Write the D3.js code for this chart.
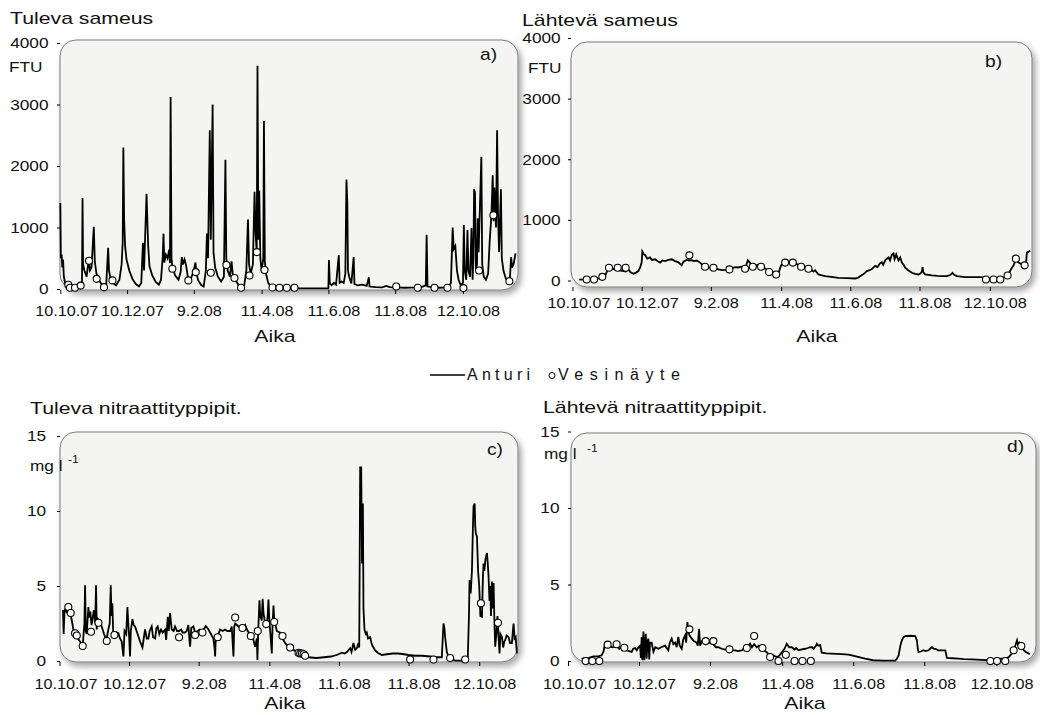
<!DOCTYPE html>
<html lang="fi">
<head>
<meta charset="UTF-8">
<title>Sameus ja nitraattityppi</title>
<script src="https://d3js.org/d3.v7.min.js"></script>
<style>
    body { margin: 0; background: #fff; }
    svg { display: block; }
    text { font-family: "Liberation Sans", Arial, sans-serif; fill: #111; }
</style>
</head>
<body>
<svg width="1040" height="715"></svg>
<script>
    // days counted from 10.10.2007
    const startDate = new Date(2007, 9, 10);

    const tickLabels = ['10.10.07', '10.12.07', '9.2.08', '11.4.08', '11.6.08', '11.8.08', '12.10.08'];
    const ftuTicks = [0, 1000, 2000, 3000, 4000];
    const mgTicks = [0, 5, 10, 15];

    // a) Tuleva sameus, FTU
    const sameusTulevaAnturi = [
        [0, 1400], [0.5, 500], [1.2, 560], [1.8, 350], [2.5, 480], [3.2, 200], [4.5, 90], [6, 50], [9, 30], [13, 20],
        [17, 40], [19.8, 120], [20.3, 1480], [20.8, 400], [22, 300], [24, 200], [26, 480], [27, 300], [28.5, 350],
        [30.6, 1010], [31.5, 450], [33, 250], [35, 150], [38, 70], [40, 50], [42, 80], [43.7, 670], [44.5, 300],
        [46, 160], [48, 100], [51, 60], [54, 150], [56, 400], [57, 750], [57.6, 2300], [58.3, 1140], [59.2, 700],
        [60.5, 480], [63, 300], [66, 160], [69, 80], [72, 40], [74, 100], [75.5, 750], [76.5, 300], [78.8, 1550],
        [79.6, 1080], [80.3, 700], [81.5, 370], [84, 220], [87, 120], [90, 70], [92, 150], [93.6, 530], [94.3, 900],
        [95, 430], [96.5, 560], [98, 500], [99.5, 640], [100.2, 420], [100.8, 3120], [101.6, 500], [102.5, 350],
        [105, 220], [108, 150], [110, 280], [111, 520], [112, 400], [113.5, 480], [115, 380], [116.5, 200], [118, 130],
        [120, 200], [122, 300], [123.5, 430], [124.5, 250], [126, 140], [129, 60], [131, 40], [133, 300], [134, 900],
        [135, 500], [136.6, 2580], [137.5, 800], [139.2, 3000], [140, 600], [141.5, 350], [144, 200], [147, 120],
        [149.5, 200], [150.9, 2100], [151.7, 500], [153, 300], [155, 200], [156.5, 450], [157.5, 250], [160, 150],
        [163, 60], [166, 20], [168, 50], [170, 300], [171.5, 1130], [172.5, 400], [174, 250], [176, 400],
        [177.5, 1580], [178.5, 900], [179.5, 600], [180.2, 3630], [181, 800], [181.8, 1600], [182.8, 500], [184, 300],
        [185.5, 500], [186.1, 2730], [186.9, 450], [188, 250], [190, 100], [192, 50], [195, 20], [200, 10], [245, 10],
        [245.5, 470], [246.3, 90], [248, 60], [250, 100], [252, 70], [254.5, 550], [255.3, 100], [257, 120],
        [259, 100], [260.5, 250], [261.5, 1780], [262.3, 1400], [262.9, 300], [264, 200], [266, 90], [268.1, 520],
        [268.8, 80], [272, 60], [276, 70], [280, 50], [282, 190], [282.6, 40], [288, 30], [294, 25], [298, 50],
        [301, 30], [305, 25], [315, 20], [325, 25], [330, 30], [334, 60], [334.8, 880], [335.6, 40], [345, 20],
        [355, 25], [357, 100], [358.6, 1000], [359.5, 650], [361, 700], [362.5, 300], [364, 150], [366, 60], [368, 100],
        [368.8, 1040], [369.6, 300], [371, 150], [372.1, 960], [373, 300], [374.5, 200], [375.8, 990], [376.8, 150],
        [377.5, 500], [378.2, 1620], [379, 1560], [379.8, 300], [380.8, 400], [381.5, 1150], [382.3, 600],
        [384.8, 2150], [385.6, 400], [387, 200], [389, 150], [391, 250], [392.5, 800], [394, 1200], [395.2, 1850],
        [396, 1100], [396.7, 1650], [398.2, 1000], [399.2, 2580], [400, 1250], [401, 600], [402.7, 1620], [403.5, 500],
        [405, 300], [407, 180], [409, 120], [411, 200], [412, 520], [413, 350], [414.5, 420], [416, 580]
    ];
    const sameusTulevaNayte = [
        [7.3, 70], [8.8, 20], [13.4, 20], [18.6, 55], [26.2, 460], [33.2, 165], [39.9, 30], [47.6, 140], [102.4, 330],
        [117, 140], [123.8, 275], [137.5, 265], [151.8, 390], [159.1, 180], [165.2, 20], [172.9, 220], [179.6, 600],
        [186.6, 310], [193.9, 25], [200.3, 20], [207, 20], [214, 20], [307, 40], [326.7, 20], [342, 20], [353.8, 20],
        [368.4, 15], [382.7, 300], [395.8, 1200], [410.4, 125]
    ];

    // b) Lähtevä sameus, FTU
    const sameusLahtevaAnturi = [
        [6, 15], [12, 20], [19, 25], [24, 40], [26, 60], [29, 90], [30.5, 150], [32, 200], [36, 190], [40, 170],
        [44, 160], [47, 150], [49, 190], [51, 140], [53.7, 110], [56, 130], [58.1, 155], [59.6, 210], [61, 300],
        [61.6, 480], [63, 430], [64, 420], [66, 360], [68.4, 380], [70, 340], [72.8, 350], [75, 320], [77.2, 295],
        [79.3, 330], [81.6, 320], [84.6, 340], [87.5, 350], [90.4, 320], [93.4, 300], [96.3, 250], [97.8, 310],
        [100.7, 340], [103, 330], [105.1, 335], [107, 320], [109.6, 330], [112.5, 295], [115, 250], [118, 220],
        [122, 210], [126, 200], [128.7, 183], [132, 170], [136, 175], [138.4, 190], [141, 205], [143.4, 220],
        [146, 215], [149.3, 228], [151, 210], [153, 240], [154.6, 333], [156.6, 290], [158, 250], [161, 240],
        [164, 260], [166.3, 240], [169, 210], [172, 170], [175, 160], [178, 120], [179.6, 110], [181.6, 110],
        [183, 200], [184, 250], [186, 290], [188, 310], [191, 300], [194.3, 290], [197.8, 270], [200, 250], [203, 230],
        [206, 210], [208, 190], [210, 180], [212.5, 150], [214, 170], [216.9, 100], [219, 90], [222.8, 72], [228, 60],
        [234.6, 44], [242, 38], [249.3, 33], [252, 45], [253.7, 72], [257, 110], [259.6, 155], [262, 170], [264, 190],
        [267, 240], [269, 220], [271, 280], [272.8, 300], [274, 260], [276, 340], [278.7, 380], [280, 330],
        [281.5, 420], [283.1, 445], [284, 350], [285.5, 430], [287.5, 330], [289, 380], [290.4, 295], [292, 260],
        [293.4, 210], [296, 170], [299.3, 128], [302, 110], [305.1, 100], [307, 120], [308.2, 150], [308.7, 222],
        [309.3, 140], [311, 100], [316.9, 83], [322, 75], [325.7, 72], [330, 72], [333, 90], [335.1, 128],
        [336.5, 95], [339, 72], [346.3, 55], [355, 55], [361, 55], [364, 30], [375, 25], [380, 45], [383.7, 83],
        [386, 160], [387.5, 210], [389, 250], [391, 350], [393, 300], [394.9, 280], [397, 250], [399, 240],
        [400, 300], [400.7, 460], [403.7, 490]
    ];
    const sameusLahtevaNayte = [
        [12.5, 17], [19, 17], [26.3, 60], [32.2, 210], [39.9, 210], [46.9, 210], [103.1, 415], [116.9, 228],
        [124.3, 210], [138.4, 183], [152.2, 195], [159, 228], [166.3, 228], [173.4, 140], [179.6, 100], [187.5, 295],
        [194.3, 295], [201.6, 228], [208.1, 195], [364.6, 17], [371.3, 17], [377.2, 17], [383.7, 83], [391, 360],
        [398.7, 250]
    ];

    // c) Tuleva nitraattityppi, mg l-1
    const nitraattiTulevaAnturi = [
        [3, 3.4], [3.6, 1.8], [4.4, 3.4], [5.5, 3.5], [6.3, 3.2], [7.5, 3.5], [9.5, 3.2], [11, 2.6], [12.1, 2.1],
        [14, 1.8], [16, 1.5], [18, 1.3], [19.5, 1.1], [20.5, 1.2], [21.8, 2.5], [22.4, 5.05], [23, 2.0], [23.8, 1.8],
        [25.3, 3.6], [26, 2.9], [27, 3.3], [28, 2.4], [28.8, 2.7], [30, 3.4], [31.3, 2.5], [32, 5.05], [32.6, 2.1],
        [33.5, 2.8], [35, 2.6], [37, 2.3], [39, 1.8], [41, 1.4], [42.8, 2.1], [44, 2.5], [44.9, 5.05], [45.5, 3.0],
        [46.3, 3.85], [47, 2.0], [48.1, 1.6], [50, 1.9], [51.6, 1.85], [53, 1.5], [54.5, 1.3], [56, 0.3], [57, 2.0],
        [58.5, 1.8], [59.5, 3.6], [60.2, 2.6], [61, 1.7], [61.8, 0.3], [62.5, 2.0], [63.9, 2.8], [65, 2.4],
        [66.2, 2.3], [68, 1.9], [70.6, 1.3], [72.7, 0.9], [74, 1.6], [75, 2.1], [76.5, 1.5], [77.9, 1.5], [79, 2.0],
        [80.8, 2.3], [82, 1.6], [83.8, 1.5], [85, 2.2], [86.1, 2.3], [87.5, 1.8], [89, 2.1], [90.5, 1.9], [92.5, 2.1],
        [93.5, 1.4], [94.9, 2.95], [95.8, 2.0], [96.9, 3.2], [98.4, 2.1], [100, 2.0], [101.3, 2.3], [103, 2.0],
        [104.8, 2.0], [106.6, 2.1], [108, 1.9], [110, 1.9], [111.5, 2.0], [113, 2.4], [114, 1.3], [114.5, 0.95],
        [115.5, 2.2], [117.4, 2.3], [118.9, 1.9], [121, 2.0], [123, 2.1], [125.3, 2.0], [128.2, 2.33], [130.6, 2.1],
        [132, 1.9], [134.9, 1.5], [136, 0.8], [136.4, 0.3], [137, 1.5], [138.7, 1.7], [140.8, 2.1], [143, 2.0],
        [145.2, 2.1], [147, 2.0], [149.6, 2.0], [151, 2.3], [151.8, 1.2], [152.5, 0.3], [153.2, 2.3], [154, 2.5],
        [155.5, 2.4], [156.9, 2.3], [159, 2.2], [160.4, 2.2], [162.7, 2.4], [165, 2.0], [167.7, 1.7], [170, 1.4],
        [171.5, 0.95], [173, 1.5], [173.5, 0.07], [174.2, 2.0], [175.3, 4.05], [176, 3.0], [177.3, 2.7], [178.1, 4.15],
        [178.8, 3.2], [180.3, 2.5], [181.2, 2.2], [182.5, 3.0], [183.2, 4.1], [184, 2.6], [184.7, 2.0], [186.1, 0.5],
        [186.8, 2.4], [187.6, 3.7], [188.2, 2.8], [190.5, 2.0], [193, 1.9], [195.5, 1.5], [197.8, 1.2], [200, 1.0],
        [202.2, 0.9], [205, 0.75], [208, 0.6], [211, 0.5], [215.3, 0.35], [218.2, 0.25], [225, 0.2], [232, 0.25],
        [238, 0.3], [243, 0.4], [247.5, 0.55], [250, 0.5], [252, 0.6], [254.8, 0.85], [256, 0.6], [257.7, 1.2],
        [259.2, 0.75], [261, 0.9], [262.1, 1.2], [262.8, 0.9], [263.6, 12.9], [264.5, 12.9], [265.2, 6.5],
        [266, 10.5], [266.5, 3.5], [267.4, 2.1], [268.5, 1.8], [269.4, 1.9], [270.5, 1.5], [272.4, 1.6], [273.5, 1.2],
        [274.4, 1.0], [276.8, 0.7], [279, 0.55], [282.6, 0.4], [287, 0.45], [292, 0.5], [297.2, 0.5], [302, 0.45],
        [306, 0.4], [312, 0.35], [318, 0.35], [325, 0.3], [330, 0.25], [335.2, 0.25], [336, 1.5], [336.7, 2.5],
        [337.5, 2.2], [338.1, 1.6], [339.6, 0.6], [341, 0.3], [344, 0.1], [347, 0.02], [352, 0.02], [356, 0.05],
        [358, 0.3], [359, 3.0], [359.5, 5.4], [360.5, 4.5], [361.6, 6.0], [362.5, 9.0], [363, 10.3], [364, 10.5],
        [364.5, 9.0], [365, 8.5], [366, 8.3], [367, 6.0], [368, 5.0], [369, 3.0], [370.4, 2.95], [371.2, 5.5],
        [371.8, 6.5], [372.5, 6.0], [373.5, 6.8], [374.8, 7.2], [375.5, 6.5], [376.2, 5.6], [377, 4.0], [377.7, 5.0],
        [378.3, 3.0], [379.1, 5.3], [380, 3.5], [380.6, 5.2], [381.2, 3.0], [382, 0.96], [383, 1.8], [384, 3.0],
        [385, 1.5], [385.8, 0.5], [386.6, 1.8], [387.9, 1.6], [389, 0.9], [390, 1.3], [390.8, 1.4], [392, 1.7],
        [393.7, 1.6], [395, 1.2], [396.6, 1.2], [398.1, 2.5], [399, 1.5], [400, 1.6], [401, 0.5]
    ];
    const nitraattiTulevaNayte = [
        [7.7, 3.6], [9.8, 3.2], [13.6, 1.85], [15.1, 1.7], [20.3, 1.0], [27.6, 1.95], [34.1, 2.55], [41.4, 1.33],
        [48.1, 1.73], [104.8, 1.58], [118.9, 1.73], [125.3, 1.9], [138.7, 1.58], [154, 2.9], [160.4, 2.2],
        [167.7, 1.67], [173.8, 2.0], [181.2, 2.47], [188.2, 2.6], [195.5, 1.67], [202.2, 0.9], [209.5, 0.55],
        [211, 0.5], [212.5, 0.5], [214, 0.45], [215.3, 0.35], [307.4, 0.1], [327.9, 0.1], [342.5, 0.2], [355.7, 0.1],
        [369.5, 3.85], [384.4, 2.55]
    ];

    // d) Lähtevä nitraattityppi, mg l-1
    const nitraattiLahtevaAnturi = [
        [11.7, 0.15], [18, 0.2], [21.8, 0.3], [26, 0.3], [28.9, 0.37], [30.5, 0.6], [31.2, 0.9], [32, 1.2],
        [33.2, 1.2], [35, 1.0], [38, 0.9], [41.8, 1.0], [44, 0.8], [46, 0.9], [48.4, 0.85], [50.4, 0.7], [52.5, 0.65],
        [54.7, 0.6], [56, 0.8], [57.6, 0.85], [59, 0.7], [60.5, 0.9], [61.9, 1.0], [62.6, 0.2], [63.3, 1.57],
        [63.9, 0.05], [64.8, 1.93], [65.6, 0.05], [66.8, 1.78], [67.6, 0.15], [68.3, 1.3], [69.1, 1.46], [69.8, 0.1],
        [70.5, 1.2], [71.9, 1.2], [73.4, 0.6], [75, 0.9], [77.7, 0.8], [80, 0.9], [83.4, 1.0], [86.2, 0.7],
        [87.5, 1.2], [89.1, 1.46], [90.5, 1.1], [92, 1.2], [93.4, 0.9], [94.8, 1.57], [96, 1.0], [97.7, 0.8],
        [99, 1.4], [100.6, 1.67], [101.5, 1.2], [102.6, 2.54], [103.4, 1.9], [104.3, 1.7], [106.3, 1.46], [108, 1.3],
        [110.6, 1.2], [111.5, 1.0], [112.6, 2.1], [113.5, 1.0], [115, 1.3], [118.3, 1.1], [121, 1.2], [124.9, 1.1],
        [127, 0.9], [129.2, 0.9], [132, 0.8], [135, 0.75], [138.7, 0.8], [141, 0.7], [143.6, 0.7], [146, 0.65],
        [149.3, 0.7], [151, 0.8], [153.6, 0.9], [155, 1.0], [156.4, 1.13], [158, 0.9], [159.9, 1.1], [162.2, 0.9],
        [164, 1.0], [167, 0.8], [169.3, 0.65], [171, 0.55], [173.6, 0.35], [176.5, 0.37], [178, 0.3], [180, 0.25],
        [182, 0.4], [184, 0.6], [186, 0.8], [187.9, 1.13], [190, 0.9], [192.3, 0.9], [194.6, 0.75], [196, 0.85],
        [198, 0.7], [200, 0.75], [203.7, 0.8], [206, 0.85], [208, 0.9], [209.5, 0.9], [211, 0.8], [213, 1.0],
        [213.8, 1.13], [215, 1.0], [216.6, 1.05], [218, 0.54], [222, 0.5], [226.6, 0.48], [235, 0.45], [241, 0.41],
        [243.8, 0.37], [250, 0.25], [255.3, 0.15], [262, 0.05], [270, 0.02], [281.1, 0.02], [282.5, 0.15],
        [284, 0.37], [285.5, 1.0], [286.8, 1.35], [288, 1.55], [289.7, 1.63], [294, 1.65], [298.3, 1.63],
        [299.7, 1.35], [300.5, 0.8], [301.1, 0.58], [303, 0.62], [305.4, 0.7], [307, 0.65], [309.7, 0.7], [311, 0.8],
        [312.6, 0.9], [314, 0.8], [316, 0.78], [318, 0.7], [319.8, 0.7], [322, 0.7], [324.1, 0.7], [325.5, 0.2],
        [330, 0.18], [335.5, 0.15], [340, 0.12], [347, 0.1], [355, 0.08], [362.8, 0.05], [368.5, 0.1], [372, 0.15],
        [375.6, 0.15], [377.1, 0.2], [378.5, 0.25], [379.9, 0.37], [381.5, 0.5], [382.8, 0.7], [384.2, 1.0],
        [385.7, 1.35], [386.5, 1.1], [387.5, 1.2], [389.4, 0.98], [391.4, 0.7], [393, 0.6], [394.3, 0.55],
        [396.6, 0.45]
    ];
    const nitraattiLahtevaNayte = [
        [15.2, 0], [20.9, 0], [26.9, 0], [34.1, 1.07], [41.8, 1.09], [48.4, 0.87], [104.3, 2.07], [118.3, 1.3],
        [124.9, 1.3], [138.7, 0.76], [153.6, 0.85], [159.9, 1.63], [167, 0.85], [173.6, 0.26], [180.8, 0],
        [187.1, 0.41], [194.6, 0], [201.4, 0], [208.6, 0], [362.8, 0], [368.5, 0], [375.6, 0], [382.8, 0.7],
        [389.4, 0.98]
    ];

    const SX = 1.25; // the source font is a wide one

    const toDate = d => new Date(startDate.getTime() + d * 864e5);
    const parseTick = d3.timeParse('%d.%m.%y');
    const fmtTick = d3.timeFormat('%-d.%-m.%y');
    const tickDates = tickLabels.map(parseTick);

    const svg = d3.select('svg');

    // drop shadow for the rounded plot boxes
    const f = svg.append('defs').append('filter').attr('id', 'shadow')
        .attr('x', '-10%').attr('y', '-10%').attr('width', '125%').attr('height', '130%');
    f.append('feDropShadow').attr('dx', 3).attr('dy', 4).attr('stdDeviation', 3)
        .attr('flood-color', '#000').attr('flood-opacity', 0.35);

    function label(x, y, txt, size, anchor, sx) {
        return svg.append('text')
            .attr('transform', `translate(${x},${y}) scale(${sx || SX},1)`)
            .attr('font-size', size)
            .attr('text-anchor', anchor || 'start')
            .text(txt);
    }

    const panels = [
        {
            title: 'Tuleva sameus', letter: 'a)', sensor: sameusTulevaAnturi, samples: sameusTulevaNayte,
            yTicks: ftuTicks, yRange: [289, 43], box: [60, 40, 518, 290], days: [-0.3, 418.3],
            titlePos: [10, 24], letterPos: [480, 60], aikaPos: [275, 342], unit: 'FTU', unitPos: [9, 72],
            xPad: 11, yPad: 7
        },
        {
            title: 'Lähtevä sameus', letter: 'b)', sensor: sameusLahtevaAnturi, samples: sameusLahtevaNayte,
            yTicks: ftuTicks, yRange: [280.5, 38], box: [571, 42, 1032, 287], days: [-1.3, 405.2],
            titlePos: [522, 26], letterPos: [985, 67], aikaPos: [817, 342], unit: 'FTU', unitPos: [528, 73],
            xPad: 6, yPad: 6
        },
        {
            title: 'Tuleva nitraattityppipit.', letter: 'c)', sensor: nitraattiTulevaAnturi, samples: nitraattiTulevaNayte,
            yTicks: mgTicks, yRange: [661, 436], box: [60, 432, 518, 662], days: [0.4, 402],
            titlePos: [30, 414], letterPos: [487, 455], aikaPos: [285, 709], unit: 'mg l', unitPos: [30, 471],
            supPos: [68, 463], xPad: 12, yPad: 9
        },
        {
            title: 'Lähtevä nitraattityppipit.', letter: 'd)', sensor: nitraattiLahtevaAnturi, samples: nitraattiLahtevaNayte,
            yTicks: mgTicks, yRange: [661, 431.5], box: [571, 433, 1036, 662], days: [2.6, 402],
            titlePos: [543, 413], letterPos: [1007, 452], aikaPos: [805, 709], unit: 'mg l', unitPos: [544, 459],
            supPos: [587, 452], xPad: 12, yPad: 7
        }
    ];

    panels.forEach(p => {
        const [bx0, by0, bx1, by1] = p.box;

        const x = d3.scaleTime()
            .domain([toDate(p.days[0]), toDate(p.days[1])])
            .range([bx0, bx1]);
        const y = d3.scaleLinear()
            .domain([0, d3.max(p.yTicks)])
            .range(p.yRange);

        svg.append('rect')
            .attr('x', bx0).attr('y', by0)
            .attr('width', bx1 - bx0).attr('height', by1 - by0)
            .attr('rx', 16).attr('ry', 16)
            .attr('fill', '#f4f4f2')
            .attr('stroke', '#7a7a7a')
            .attr('stroke-width', 1)
            .attr('filter', 'url(#shadow)');

        // x axis, labels sit a little right of their ticks in the original
        const gx = svg.append('g')
            .attr('transform', `translate(0,${by1})`)
            .call(d3.axisBottom(x).tickValues(tickDates).tickFormat(fmtTick)
                .tickSize(4).tickPadding(p.xPad));
        gx.select('.domain').remove();
        gx.selectAll('text')
            .attr('font-size', 15)
            .attr('font-family', '"Liberation Sans", Arial, sans-serif')
            .attr('fill', '#111')
            .attr('transform', (d, i) => `translate(${i === 0 ? 6 : 5},0) scale(1.08,1)`);

        // y axis
        const gy = svg.append('g')
            .attr('transform', `translate(${bx0},0)`)
            .call(d3.axisLeft(y).tickValues(p.yTicks).tickFormat(d3.format('d'))
                .tickSize(3).tickPadding(p.yPad));
        gy.select('.domain').remove();
        gy.selectAll('text')
            .attr('font-size', 15)
            .attr('font-family', '"Liberation Sans", Arial, sans-serif')
            .attr('fill', '#111')
            .attr('transform', 'scale(1.15,1)');

        // sensor line
        const line = d3.line()
            .x(d => x(toDate(d[0])))
            .y(d => y(d[1]));

        svg.append('path')
            .datum(p.sensor)
            .attr('d', line)
            .attr('fill', 'none')
            .attr('stroke', '#000')
            .attr('stroke-width', 1.8)
            .attr('stroke-linejoin', 'miter');

        // water samples
        svg.append('g')
            .selectAll('circle')
            .data(p.samples)
            .join('circle')
            .attr('cx', d => x(toDate(d[0])))
            .attr('cy', d => y(d[1]))
            .attr('r', 3.5)
            .attr('fill', '#fff')
            .attr('stroke', '#000')
            .attr('stroke-width', 1.1);

        // texts
        label(p.titlePos[0], p.titlePos[1], p.title, 17, 'start');
        label(p.letterPos[0], p.letterPos[1], p.letter, 16, 'start', 1.2);
        label(p.aikaPos[0], p.aikaPos[1], 'Aika', 17, 'middle');
        label(p.unitPos[0], p.unitPos[1], p.unit, 15, 'start', 1.15);
        if (p.supPos) {
            label(p.supPos[0], p.supPos[1], '-1', 11, 'start', 1.1);
        }
    });

    // legend
    const lg = svg.append('g');
    lg.append('line')
        .attr('x1', 430).attr('x2', 465)
        .attr('y1', 375).attr('y2', 375)
        .attr('stroke', '#000').attr('stroke-width', 1.5);
    lg.append('text')
        .attr('x', 467).attr('y', 380)
        .attr('font-size', 16)
        .attr('textLength', 63).attr('lengthAdjust', 'spacing')
        .text('Anturi');
    lg.append('circle')
        .attr('cx', 552).attr('cy', 375.5).attr('r', 3)
        .attr('fill', '#fff').attr('stroke', '#000').attr('stroke-width', 1);
    lg.append('text')
        .attr('x', 558).attr('y', 380)
        .attr('font-size', 16)
        .attr('textLength', 122).attr('lengthAdjust', 'spacing')
        .text('Vesinäyte');
</script>
</body>
</html>
